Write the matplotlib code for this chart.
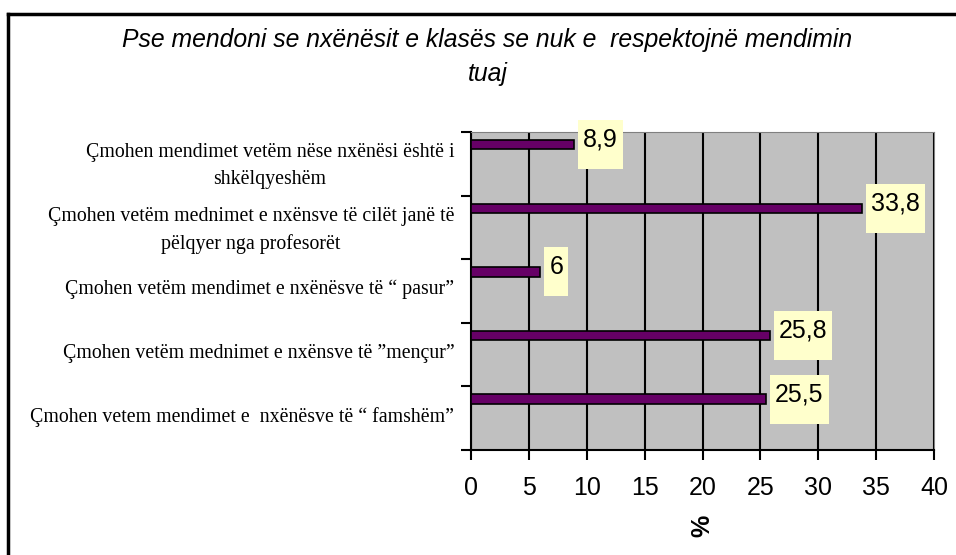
import numpy as np
import matplotlib
matplotlib.use("Agg")
import matplotlib.pyplot as plt
from matplotlib.patches import Rectangle
from matplotlib.lines import Line2D
from matplotlib.transforms import IdentityTransform

# data (bottom to top)
categories = [
    "Çmohen vetem mendimet e  nxënësve të “ famshëm”",
    "Çmohen vetëm mednimet e nxënsve të ”mençur”",
    "Çmohen vetëm mendimet e nxënësve të “ pasur”",
    "Çmohen vetëm mednimet e nxënsve të cilët janë të\npëlqyer nga profesorët",
    "Çmohen mendimet vetëm nëse nxënësi është i\nshkëlqyeshëm",
]
values = [25.5, 25.8, 6, 33.8, 8.9]
value_labels = ["25,5", "25,8", "6", "33,8", "8,9"]
xticks = [0, 5, 10, 15, 20, 25, 30, 35, 40]
title = "Pse mendoni se nxënësit e klasës se nuk e  respektojnë mendimin\ntuaj"

fig = plt.figure(figsize=(9.56, 5.55), dpi=100)
ax = fig.add_axes([471 / 956, 1 - 450 / 555, (934 - 471) / 956, (450 - 132) / 555])
ax.set_facecolor("#c0c0c0")

y = np.arange(len(categories))
ax.barh(y + 0.3, values, height=0.15, color="#660066", edgecolor="black",
        linewidth=1.2, zorder=3)

ax.set_xlim(0, 40)
ax.set_ylim(-0.5, len(categories) - 0.5)
ax.set_xticks(xticks)
ax.set_xticklabels([str(t) for t in xticks], fontsize=18, family="Liberation Sans")
ax.tick_params(axis="x", direction="out", length=7, width=1.5, pad=12)
ax.xaxis.grid(True, color="black", linewidth=1.5, zorder=1)
ax.set_axisbelow(True)

# y ticks at category boundaries, labels near band centres
ax.set_yticks(np.arange(len(categories) + 1) - 0.5)
ax.set_yticklabels([])
ax.tick_params(axis="y", which="major", direction="out", length=7, width=1.5)
ax.set_yticks(y + 0.06, minor=True)
ax.set_yticklabels(categories, minor=True, fontsize=14.3, family="Liberation Serif",
                   multialignment="center", linespacing=1.55)
ax.tick_params(axis="y", which="minor", length=0, pad=12)

for side in ["top", "right"]:
    ax.spines[side].set_color("#808080")
for side in ["left", "bottom"]:
    ax.spines[side].set_linewidth(1.5)

ax.set_xlabel("%", fontsize=18, fontweight="bold", rotation=90,
              family="Liberation Sans", labelpad=10)

# data labels with yellow boxes
texts = []
for yi, v, lab in zip(y, values, value_labels):
    t = ax.annotate(lab, (v, yi + 0.3), xytext=(9, 5), textcoords="offset pixels",
                    ha="left", va="center", fontsize=18, family="Liberation Sans",
                    zorder=6, annotation_clip=False)
    texts.append((t, v, yi + 0.3))

fig.canvas.draw()
renderer = fig.canvas.get_renderer()
for t, v, yc in texts:
    bb = t.get_window_extent(renderer)
    px, py = ax.transData.transform((v, yc))
    rect = Rectangle((bb.x0 - 5, py - 24.5), bb.width + 10, 49,
                     transform=IdentityTransform(), facecolor="#ffffcc",
                     edgecolor="none", zorder=5, clip_on=False)
    ax.add_patch(rect)

fig.text(0.51, 1 - 57 / 555, title, ha="center", va="center", fontsize=17.8,
         style="italic", family="Liberation Sans", linespacing=1.55)

# outer frame (top and left edges)
fig.add_artist(Line2D([8 / 956, 1], [1 - 14 / 555, 1 - 14 / 555], color="black",
                      linewidth=2.5, transform=fig.transFigure))
fig.add_artist(Line2D([8 / 956, 8 / 956], [0, 1 - 14 / 555], color="black",
                      linewidth=2.5, transform=fig.transFigure))

fig.savefig("out.png", dpi=100)
